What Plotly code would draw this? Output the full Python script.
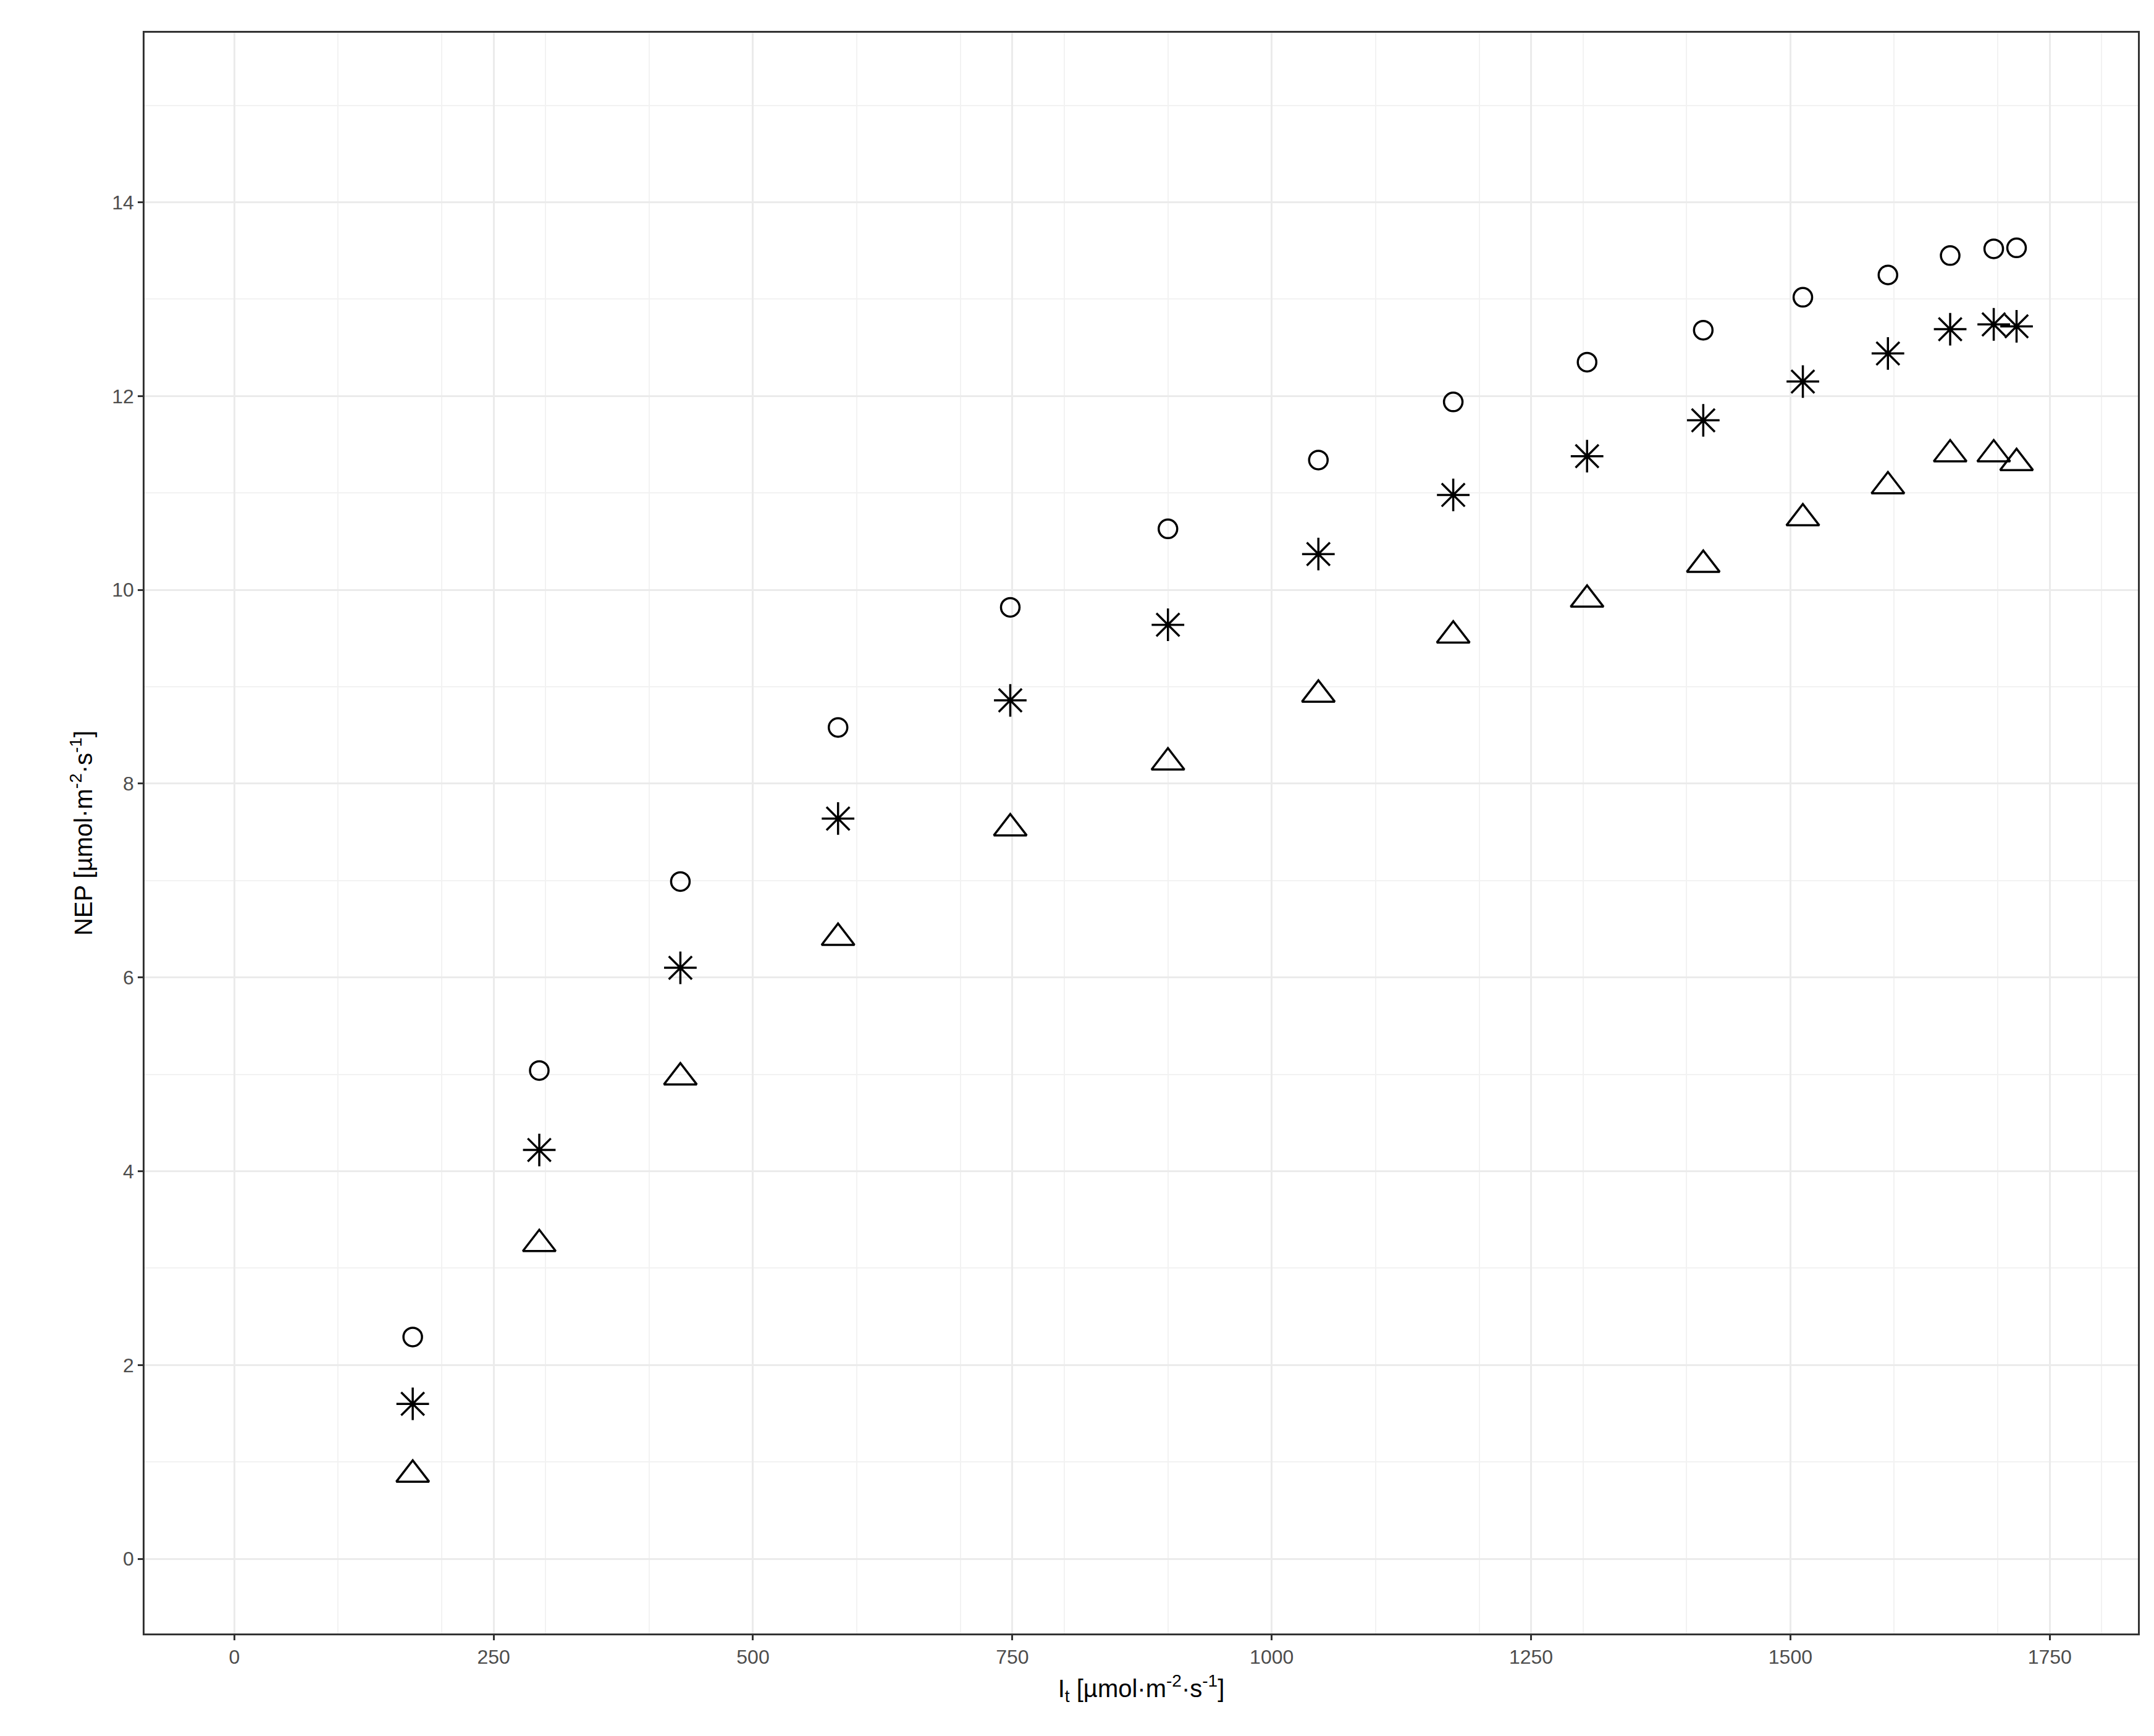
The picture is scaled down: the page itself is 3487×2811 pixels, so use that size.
import plotly.graph_objects as go

irr = [172, 294, 430, 582, 748, 900, 1045, 1175, 1304, 1416, 1512, 1594, 1654, 1696, 1718]
nep_circle = [2.29, 5.04, 6.99, 8.58, 9.82, 10.63, 11.34, 11.94, 12.35, 12.68, 13.02, 13.25, 13.45, 13.52, 13.53]
nep_star = [1.60, 4.22, 6.10, 7.64, 8.86, 9.64, 10.37, 10.98, 11.38, 11.75, 12.15, 12.44, 12.69, 12.74, 12.72]
nep_tri = [0.87, 3.25, 4.97, 6.41, 7.54, 8.22, 8.92, 9.53, 9.90, 10.26, 10.74, 11.07, 11.40, 11.40, 11.31]

fig = go.Figure()
for y, sym, sz in [(nep_circle, "circle-open", 30), (nep_star, "asterisk-open", 44), (nep_tri, "triangle-up-open", 46)]:
    fig.add_trace(go.Scatter(x=irr, y=y, mode="markers",
                             marker=dict(symbol=sym, size=sz, color="black", line=dict(color="black", width=3.5)),
                             showlegend=False))

axcommon = dict(showline=True, linecolor="#333333", linewidth=2.5, mirror=True,
                gridcolor="#ebebeb", gridwidth=2.5, zeroline=False,
                ticks="outside", ticklen=8, tickwidth=2.5, tickcolor="#333333",
                tickfont=dict(family="Liberation Sans, Arial", size=32, color="#4d4d4d"),
                minor=dict(showgrid=True, gridcolor="#f2f2f2", gridwidth=1.5))
fig.update_xaxes(range=[-86.5, 1835], tickvals=[0, 250, 500, 750, 1000, 1250, 1500, 1750], **axcommon,
                 title=dict(text="I<sub>t</sub> [µmol·m<sup>-2</sup>·s<sup>-1</sup>]",
                            font=dict(family="Liberation Sans, Arial", size=40, color="black"), standoff=20))
fig.update_yaxes(range=[-0.77, 15.75], tickvals=[0, 2, 4, 6, 8, 10, 12, 14], **axcommon,
                 title=dict(text="NEP [µmol·m<sup>-2</sup>·s<sup>-1</sup>]",
                            font=dict(family="Liberation Sans, Arial", size=40, color="black"), standoff=20))
fig.update_layout(width=3487, height=2811, plot_bgcolor="white", paper_bgcolor="white",
                  margin=dict(l=226, r=34, t=45, b=174))
fig.write_html("out.html")
